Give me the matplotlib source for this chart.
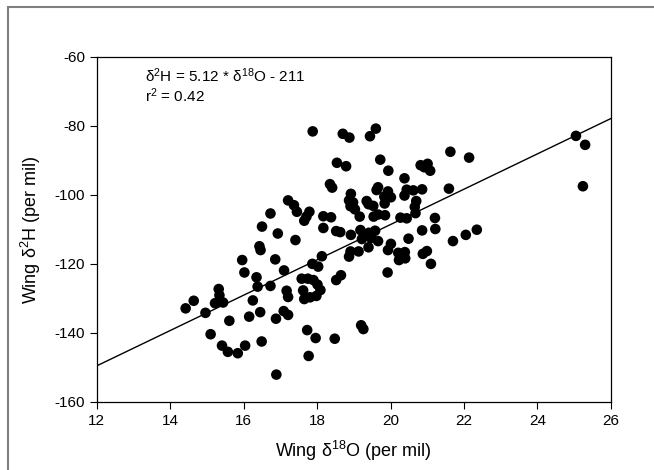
import matplotlib
matplotlib.use("Agg")
import matplotlib.pyplot as plt
import numpy as np
from matplotlib.patches import Rectangle

plt.rcParams['font.family'] = ['Liberation Sans', 'DejaVu Sans']
plt.rcParams['mathtext.fontset'] = 'custom'
plt.rcParams['mathtext.rm'] = 'Liberation Sans'
plt.rcParams['axes.unicode_minus'] = False

# wing isotope values (per mil)
d18o = [14.42, 14.64, 14.96, 15.10, 15.22, 15.44, 15.32, 15.34, 15.41, 15.57,
        15.61, 15.84, 15.96, 16.02, 16.04,
        16.15, 16.25, 16.35, 16.38, 16.45, 16.49, 16.73, 16.88, 16.89, 16.86,
        17.10, 17.09, 17.21, 17.17, 17.21,
        17.73, 17.77,
        16.50, 16.73, 16.93, 17.21, 17.37, 17.45, 17.41, 16.43, 16.46,
        17.79, 17.71, 17.65,
        18.54, 18.79,
        17.88, 18.70, 18.88, 19.44, 19.60,
        19.72, 19.94, 18.35, 18.41, 18.92, 18.87, 18.98, 18.91, 19.03,
        19.35, 19.40, 19.53, 19.66, 19.62,
        19.93, 19.83, 20.01, 19.84, 19.16, 19.54, 19.66, 19.85,
        18.17, 18.38, 18.17, 18.52, 18.63, 18.92,
        19.18, 19.31, 19.41, 19.58, 19.22, 19.47, 19.66,
        18.91, 19.13, 18.87, 19.40, 20.01, 19.93,
        20.21, 20.39, 20.23, 20.40, 18.13, 17.87, 18.03, 18.52, 18.65,
        19.92, 21.10,
        17.58, 17.75, 17.90, 18.01, 18.09, 17.98, 17.81, 17.65, 17.62,
        19.20, 19.26, 17.96, 18.48,
        21.63, 22.14, 20.82, 20.92, 21.01, 21.08, 20.38, 20.44, 20.62, 20.86,
        20.38, 21.59, 20.70, 20.66, 20.68, 20.27, 20.44,
        21.21, 21.22, 20.86, 20.49, 21.70, 22.05, 22.35, 20.88, 20.99,
        25.05, 25.30, 25.24]

d2h = [-132.9, -130.7, -134.2, -140.4, -131.4, -131.2, -127.3, -129.1, -143.7, -145.5,
       -136.5, -145.9, -118.9, -122.5, -143.7,
       -135.3, -130.6, -123.9, -126.6, -134.0, -142.5, -126.4, -135.9, -152.1, -118.7,
       -121.9, -133.7, -134.8, -127.8, -129.6,
       -139.2, -146.7,
       -109.2, -105.4, -111.2, -101.6, -103.0, -104.9, -113.1, -114.9, -116.0,
       -104.9, -106.3, -107.5,
       -90.7, -91.7,
       -81.6, -82.3, -83.4, -83.0, -80.8,
       -89.8, -93.0, -96.9, -97.9, -99.7, -101.6, -102.2, -103.3, -104.2,
       -101.8, -102.7, -103.2, -97.8, -98.6,
       -99.0, -100.5, -100.7, -102.5, -106.3, -106.3, -105.7, -105.9,
       -106.2, -106.5, -109.6, -110.5, -110.8, -111.6,
       -110.2, -111.6, -111.0, -110.4, -112.8, -112.5, -113.4,
       -116.4, -116.4, -117.9, -115.2, -114.2, -116.0,
       -116.8, -116.6, -118.9, -118.4, -117.8, -120.0, -120.8, -124.7, -123.3,
       -122.5, -120.0,
       -124.3, -124.3, -124.7, -126.0, -127.6, -129.3, -129.7, -130.2, -127.7,
       -137.8, -138.9, -141.5, -141.7,
       -87.5, -89.2, -91.4, -92.0, -91.0, -93.0, -95.2, -98.5, -98.7, -98.4,
       -100.2, -98.2, -101.8, -103.5, -105.3, -106.6, -106.8,
       -106.7, -109.9, -110.3, -112.7, -113.4, -111.6, -110.1, -117.1, -116.3,
       -82.9, -85.5, -97.5]

slope = 5.12
intercept = -211
r2 = 0.42

fig = plt.figure(figsize=(6.54, 4.70), dpi=100)
ax = fig.add_axes([0.148, 0.145, 0.786, 0.734])

ax.scatter(d18o, d2h, s=58, color='black', edgecolors='none', zorder=3)

xfit = np.array([12, 26])
ax.plot(xfit, slope * xfit + intercept, color='black', lw=1.0, zorder=2)

ax.set_xlim(12, 26)
ax.set_ylim(-160, -60)
ax.set_xticks(np.arange(12, 27, 2))
ax.set_yticks(np.arange(-160, -59, 20))
ax.tick_params(direction='out', length=5, width=0.8, labelsize=11, top=False, right=False)
for s in ax.spines.values():
    s.set_linewidth(0.9)

ax.set_xlabel(r'Wing δ$\mathregular{^{18}}$O (per mil)', fontsize=13, labelpad=8)
ax.set_ylabel(r'Wing δ$\mathregular{^{2}}$H (per mil)', fontsize=13, labelpad=8)

ax.text(13.3, -65.5, r'δ$\mathregular{^{2}}$H = %.2f * δ$\mathregular{^{18}}$O - %d' % (slope, -intercept),
        fontsize=11, va='center', ha='left')
ax.text(13.3, -71.3, r'r$\mathregular{^{2}}$ = %.2f' % r2, fontsize=11, va='center', ha='left')

# grey frame around the figure
fig.patches.append(Rectangle((8 / 654, -0.5), 2, 1.5 - 7 / 470, transform=fig.transFigure,
                             fill=False, edgecolor='#7f7f7f', lw=1.5))

fig.savefig('out.png', dpi=100)
